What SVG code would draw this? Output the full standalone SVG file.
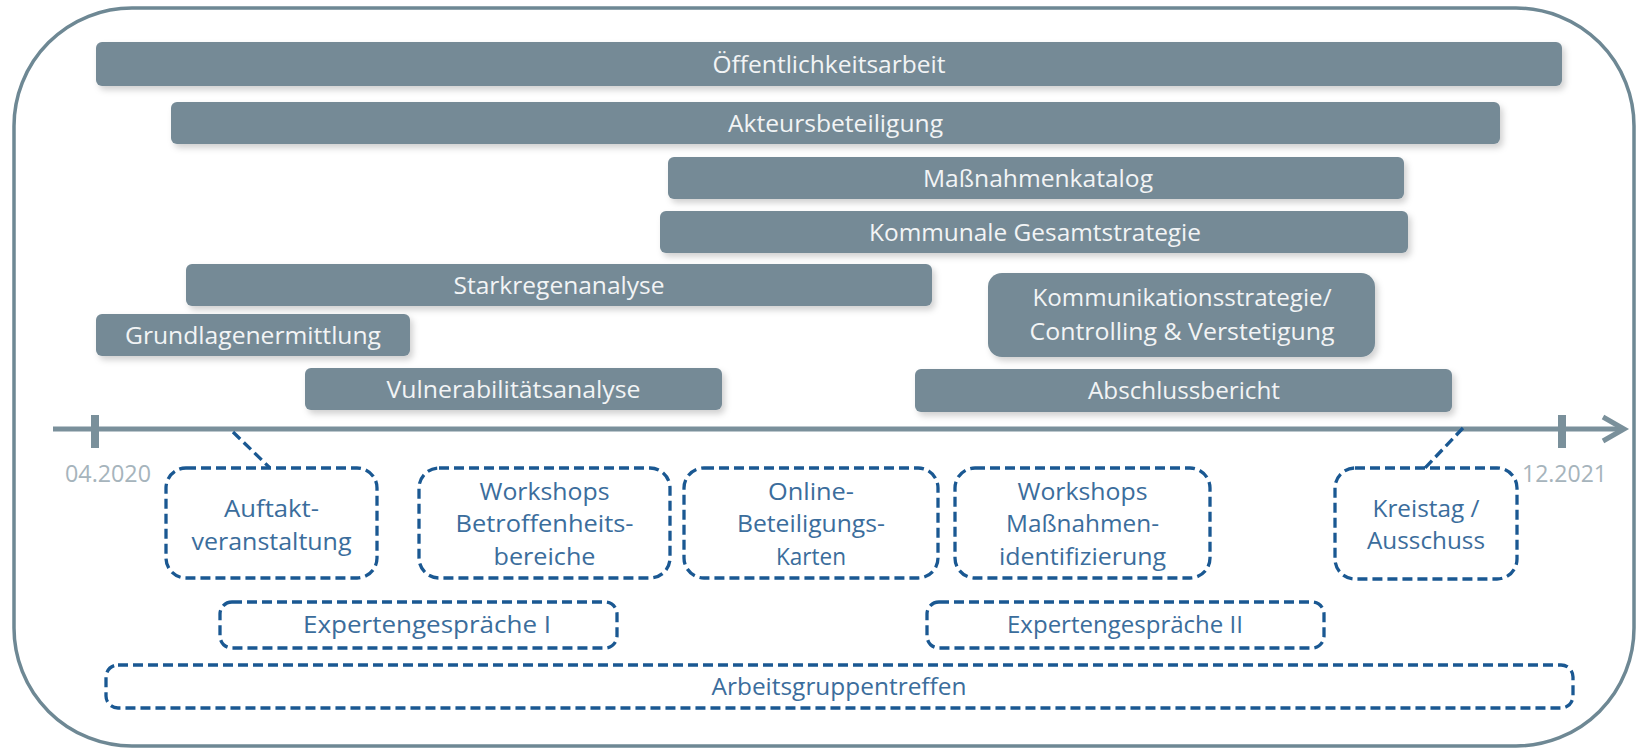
<svg xmlns="http://www.w3.org/2000/svg" width="1637" height="749" viewBox="0 0 1637 749">
<defs>
<filter id="sh" x="-5%" y="-30%" width="110%" height="170%">
<feDropShadow dx="3" dy="4" stdDeviation="3" flood-color="#000" flood-opacity="0.18"/>
</filter>
</defs>
<style>
.bar{fill:#748a96;filter:url(#sh)}
.bt{font-family:"Open Sans","Noto Sans",sans-serif;font-size:23px;fill:#f2f4f5;text-anchor:middle}
.db{fill:none;stroke:#1a5892;stroke-width:3.3;stroke-dasharray:10 5}
.dt{font-family:"Open Sans","Noto Sans",sans-serif;font-size:24px;fill:#3b6d9c;text-anchor:middle}
.date{font-family:"Open Sans","Noto Sans",sans-serif;font-size:23px;fill:#a6b4bc}
.axis{stroke:#7a909b;stroke-width:5;fill:none}
</style>
<rect x="14" y="8" width="1620" height="738" rx="118" fill="#fff" stroke="#6e8894" stroke-width="3.5"/>

<g id="oeffentlichkeitsarbeit"><rect class="bar" x="96" y="42" width="1466" height="44" rx="6"/><text class="bt" x="829" y="73" textLength="233" lengthAdjust="spacingAndGlyphs">Öffentlichkeitsarbeit</text></g>
<g id="akteursbeteiligung"><rect class="bar" x="171" y="102" width="1329" height="42" rx="6"/><text class="bt" x="835.5" y="132" textLength="215" lengthAdjust="spacingAndGlyphs">Akteursbeteiligung</text></g>
<g id="massnahmenkatalog"><rect class="bar" x="668" y="157" width="736" height="42" rx="6"/><text class="bt" x="1038" y="187" textLength="230" lengthAdjust="spacingAndGlyphs">Maßnahmenkatalog</text></g>
<g id="kommunale"><rect class="bar" x="660" y="211" width="748" height="42" rx="6"/><text class="bt" x="1035" y="241" textLength="332" lengthAdjust="spacingAndGlyphs">Kommunale Gesamtstrategie</text></g>
<g id="starkregenanalyse"><rect class="bar" x="186" y="264" width="746" height="42" rx="6"/><text class="bt" x="559" y="294" textLength="211" lengthAdjust="spacingAndGlyphs">Starkregenanalyse</text></g>
<g id="grundlagenermittlung"><rect class="bar" x="96" y="314" width="314" height="42" rx="6"/><text class="bt" x="253" y="344" textLength="256" lengthAdjust="spacingAndGlyphs">Grundlagenermittlung</text></g>
<g id="vulnerabilitaetsanalyse"><rect class="bar" x="305" y="368" width="417" height="42" rx="6"/><text class="bt" x="513.5" y="398" textLength="254" lengthAdjust="spacingAndGlyphs">Vulnerabilitätsanalyse</text></g>
<g id="kommunikationsstrategie"><rect class="bar" x="988" y="273" width="387" height="84" rx="14"/><text class="bt" x="1182" y="306" textLength="299" lengthAdjust="spacingAndGlyphs">Kommunikationsstrategie/</text><text class="bt" x="1182" y="340" textLength="305" lengthAdjust="spacingAndGlyphs">Controlling &amp; Verstetigung</text></g>
<g id="abschlussbericht"><rect class="bar" x="915" y="369" width="537" height="43" rx="6"/><text class="bt" x="1184" y="399" textLength="192" lengthAdjust="spacingAndGlyphs">Abschlussbericht</text></g>

<g id="timeline">
<line class="axis" x1="53" y1="429" x2="1622" y2="429"/>
<polyline class="axis" points="1603,417 1624,429 1603,441" stroke-linejoin="miter"/>
<line x1="95" y1="415" x2="95" y2="448" stroke="#7a909b" stroke-width="8"/>
<line x1="1562" y1="415" x2="1562" y2="448" stroke="#7a909b" stroke-width="8"/>
<text class="date" x="65" y="482" textLength="86" lengthAdjust="spacingAndGlyphs">04.2020</text>
<text class="date" x="1522" y="482" textLength="85" lengthAdjust="spacingAndGlyphs">12.2021</text>
</g>

<g id="connectors">
<line class="db" x1="233" y1="432" x2="270" y2="468"/>
<line class="db" x1="1463" y1="428" x2="1425" y2="468"/>
</g>

<g id="auftakt"><rect class="db" x="166" y="468" width="211" height="110" rx="20"/><text class="dt" x="271.5" y="517" textLength="95" lengthAdjust="spacingAndGlyphs">Auftakt-</text><text class="dt" x="271.5" y="550" textLength="160" lengthAdjust="spacingAndGlyphs">veranstaltung</text></g>
<g id="workshops-betroffenheit"><rect class="db" x="419" y="468" width="251" height="110" rx="20"/><text class="dt" x="544.5" y="500" textLength="130" lengthAdjust="spacingAndGlyphs">Workshops</text><text class="dt" x="544.5" y="532" textLength="178" lengthAdjust="spacingAndGlyphs">Betroffenheits-</text><text class="dt" x="544.5" y="565" textLength="102" lengthAdjust="spacingAndGlyphs">bereiche</text></g>
<g id="online"><rect class="db" x="684" y="468" width="254" height="110" rx="20"/><text class="dt" x="811" y="500" textLength="86" lengthAdjust="spacingAndGlyphs">Online-</text><text class="dt" x="811" y="532" textLength="148" lengthAdjust="spacingAndGlyphs">Beteiligungs-</text><text class="dt" x="811" y="565" textLength="70" lengthAdjust="spacingAndGlyphs">Karten</text></g>
<g id="workshops-massnahmen"><rect class="db" x="955" y="468" width="255" height="110" rx="20"/><text class="dt" x="1082.5" y="500" textLength="130" lengthAdjust="spacingAndGlyphs">Workshops</text><text class="dt" x="1082.5" y="532" textLength="153" lengthAdjust="spacingAndGlyphs">Maßnahmen-</text><text class="dt" x="1082.5" y="565" textLength="167" lengthAdjust="spacingAndGlyphs">identifizierung</text></g>
<g id="kreistag"><rect class="db" x="1335" y="468" width="182" height="111" rx="20"/><text class="dt" x="1426" y="517" textLength="107" lengthAdjust="spacingAndGlyphs">Kreistag /</text><text class="dt" x="1426" y="549" textLength="118" lengthAdjust="spacingAndGlyphs">Ausschuss</text></g>
<g id="expertengespraeche-1"><rect class="db" x="220" y="602" width="397" height="46" rx="12"/><text class="dt" x="427" y="633" textLength="248" lengthAdjust="spacingAndGlyphs">Expertengespräche I</text></g>
<g id="expertengespraeche-2"><rect class="db" x="927" y="602" width="397" height="46" rx="12"/><text class="dt" x="1125" y="633" textLength="236" lengthAdjust="spacingAndGlyphs">Expertengespräche II</text></g>
<g id="arbeitsgruppentreffen"><rect class="db" x="106" y="665" width="1467" height="43" rx="12"/><text class="dt" x="839" y="695" textLength="255" lengthAdjust="spacingAndGlyphs">Arbeitsgruppentreffen</text></g>
</svg>
